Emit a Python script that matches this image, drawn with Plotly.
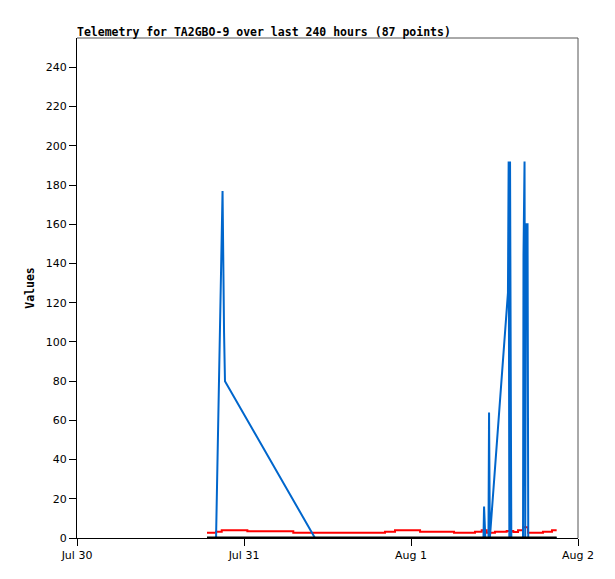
import plotly.graph_objs as go

# blue series (spikes)
blue_times = ["2023-07-30 19:59", "2023-07-30 20:55", "2023-07-30 21:08", "2023-07-30 21:16",
              "2023-07-31 10:12", "2023-08-01 10:25", "2023-08-01 10:30", "2023-08-01 10:36",
              "2023-08-01 10:41", "2023-08-01 11:08", "2023-08-01 11:13", "2023-08-01 11:20",
              "2023-08-01 11:26", "2023-08-01 13:56", "2023-08-01 14:02", "2023-08-01 14:08",
              "2023-08-01 14:14", "2023-08-01 14:20", "2023-08-01 14:25", "2023-08-01 16:06",
              "2023-08-01 16:10", "2023-08-01 16:19", "2023-08-01 16:25", "2023-08-01 16:32",
              "2023-08-01 16:45", "2023-08-01 16:51", "2023-08-01 20:56"]
blue_values = [0, 177, 105, 80,
               0, 0, 16, 8,
               0, 0, 64, 0,
               5, 125, 192, 0,
               192, 96, 0, 0,
               144, 192, 0, 160,
               160, 0, 0]

# red series (steps)
red_times = ["2023-07-30 18:41", "2023-07-30 19:59", "2023-07-30 20:48", "2023-07-31 00:29",
             "2023-07-31 07:05", "2023-07-31 20:16", "2023-07-31 21:42", "2023-08-01 01:18",
             "2023-08-01 06:11", "2023-08-01 09:12", "2023-08-01 10:10", "2023-08-01 10:53",
             "2023-08-01 12:04", "2023-08-01 13:45", "2023-08-01 14:42", "2023-08-01 15:23",
             "2023-08-01 16:06", "2023-08-01 16:49", "2023-08-01 18:58", "2023-08-01 20:16",
             "2023-08-01 20:56"]
red_values = [2.7, 3.2, 3.9, 3.4,
              2.7, 3.2, 3.9, 3.2,
              2.7, 3.2, 3.9, 2.7,
              3.2, 3.6, 3.0, 3.9,
              5.5, 2.7, 3.2, 3.9,
              3.9]

# black series (flat)
black_times = ["2023-07-30 18:41", "2023-08-01 20:56"]
black_values = [0, 0]

x_ticks = ["2023-07-30", "2023-07-31", "2023-08-01", "2023-08-02"]
x_labels = ["Jul 30", "Jul 31", "Aug 1", "Aug 2"]
y_ticks = [0, 20, 40, 60, 80, 100, 120, 140, 160, 180, 200, 220, 240]

trace_red = go.Scatter(x=red_times, y=red_values, mode="lines",
                       line=dict(color="#ff0000", width=2, shape="hv"))
trace_blue = go.Scatter(x=blue_times, y=blue_values, mode="lines",
                        line=dict(color="#0066cc", width=2))
trace_black = go.Scatter(x=black_times, y=black_values, mode="lines",
                         line=dict(color="#000000", width=3))

# the page body adds 8px, so margins are trimmed to land the plot at 77..578 / 38..538
layout = {
    "width": 615, "height": 579,
    "margin": dict(l=69, r=45, t=30, b=49),
    "paper_bgcolor": "white", "plot_bgcolor": "white",
    "showlegend": False,
    "title": dict(text="Telemetry for TA2GBO-9 over last 240 hours (87 points)",
                  font=dict(family="DejaVu Sans Mono", size=11.5, color="black", weight="bold"),
                  x=0, xanchor="left", xref="paper",
                  y=1, yanchor="bottom", yref="paper", pad=dict(b=2)),
    "xaxis": dict(type="date", range=["2023-07-30", "2023-08-02"],
                  tickvals=x_ticks, ticktext=x_labels,
                  showgrid=False, zeroline=False,
                  showline=True, linecolor="black", linewidth=1, mirror=False,
                  ticks="outside", ticklen=7, tickcolor="black",
                  tickfont=dict(family="DejaVu Sans", size=11, color="black")),
    "yaxis": dict(range=[0, 255], tickvals=y_ticks,
                  showgrid=False, zeroline=False,
                  showline=True, linecolor="black", linewidth=1,
                  ticks="outside", ticklen=7, tickcolor="black",
                  tickfont=dict(family="DejaVu Sans", size=11, color="black"),
                  title=dict(text="Values", standoff=8,
                             font=dict(family="DejaVu Sans Mono", size=11.5, color="black", weight="bold"))),
    "shapes": [dict(type="line", xref="paper", yref="paper", x0=0, x1=1, y0=1, y1=1,
                    line=dict(color="#555555", width=1)),
               dict(type="line", xref="paper", yref="paper", x0=1, x1=1, y0=0, y1=1,
                    line=dict(color="#555555", width=1))],
}

fig = go.Figure(data=[trace_red, trace_blue, trace_black], layout=layout)
fig.write_html("out.html", config={"displayModeBar": False})
